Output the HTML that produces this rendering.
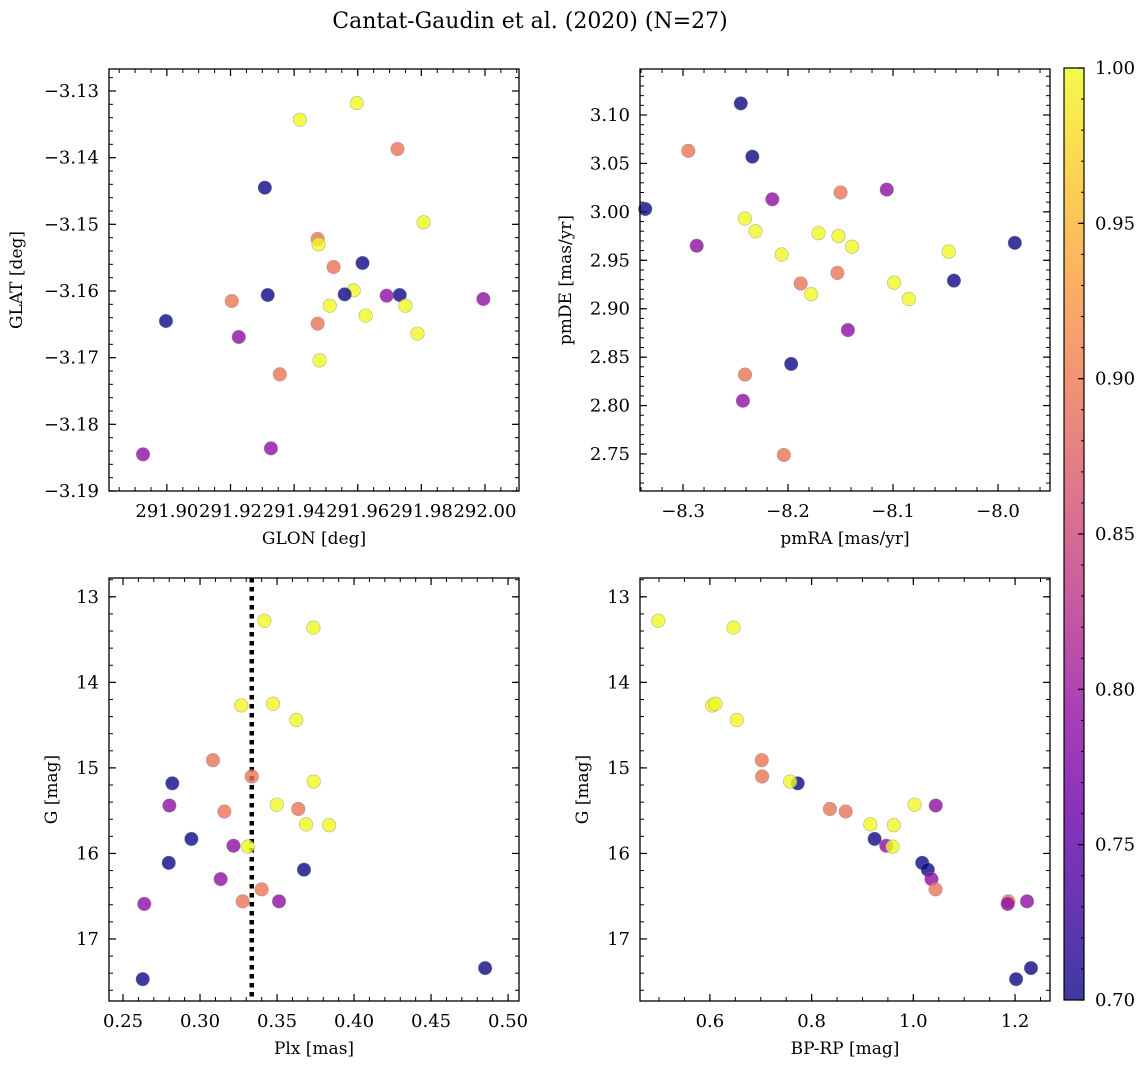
<!DOCTYPE html>
<html><head><meta charset="utf-8">
<style>
body{margin:0;background:#fff;}
svg text{font-family:"DejaVu Serif","Liberation Serif",serif;fill:#000;}
</style></head>
<body>
<svg id="fig" width="1148" height="1068" viewBox="0 0 1148 1068" xmlns="http://www.w3.org/2000/svg">
<rect width="1148" height="1068" fill="#fff"/>
<text x="530" y="28" font-size="22" text-anchor="middle">Cantat-Gaudin et al. (2020) (N=27)</text>
<defs>
<linearGradient id="plasma" x1="0" y1="1" x2="0" y2="0">
<stop offset="0" stop-color="#0d0887"/><stop offset="0.1" stop-color="#41049d"/><stop offset="0.2" stop-color="#6a00a8"/><stop offset="0.3" stop-color="#8f0da4"/><stop offset="0.4" stop-color="#b12a90"/><stop offset="0.5" stop-color="#cc4778"/><stop offset="0.6" stop-color="#e16462"/><stop offset="0.7" stop-color="#f2844b"/><stop offset="0.8" stop-color="#fca636"/><stop offset="0.9" stop-color="#fcce25"/><stop offset="1" stop-color="#f0f921"/>
</linearGradient>
</defs>
</svg>
<script>
// ---- data ----
const glonVals=[291.9597,291.9418,291.9725,291.9308,291.9807,291.9474,291.9477,291.9524,291.9615,291.9587,291.9559,291.9317,291.9732,291.9691,291.9995,291.9204,291.9512,291.9750,291.9625,291.8997,291.9474,291.9788,291.9226,291.9480,291.9355,291.9327,291.8925];
const glatVals=[-3.1318,-3.1343,-3.1387,-3.1445,-3.1497,-3.1522,-3.1530,-3.1564,-3.1558,-3.1599,-3.1605,-3.1606,-3.1606,-3.1607,-3.1612,-3.1615,-3.1622,-3.1622,-3.1637,-3.1645,-3.1649,-3.1664,-3.1669,-3.1704,-3.1725,-3.1836,-3.1845];
const probA=[1,1,0.895,0.70,1,0.895,1,0.895,0.70,1,0.70,0.70,0.70,0.79,0.79,0.895,1,1,1,0.70,0.895,1,0.79,1,0.895,0.79,0.79];

const pmraVals=[-8.245,-8.295,-8.234,-8.336,-8.106,-8.150,-8.215,-8.241,-8.231,-8.287,-8.171,-8.152,-8.139,-8.206,-8.047,-7.984,-8.153,-8.188,-8.099,-8.042,-8.178,-8.085,-8.143,-8.197,-8.241,-8.243,-8.204];
const pmdeVals=[3.112,3.063,3.057,3.003,3.023,3.020,3.013,2.993,2.980,2.965,2.978,2.975,2.964,2.956,2.959,2.968,2.937,2.926,2.927,2.929,2.915,2.910,2.878,2.843,2.832,2.805,2.749];
const probB=[0.70,0.895,0.70,0.70,0.79,0.895,0.79,1,1,0.79,1,1,1,1,1,0.70,0.895,0.895,1,0.70,1,1,0.79,0.70,0.895,0.79,0.895];

const gMag=[13.28,13.36,14.27,14.25,14.44,14.91,15.10,15.18,15.16,15.44,15.51,15.43,15.48,15.66,15.67,15.83,15.91,15.92,16.11,16.19,16.30,16.42,16.56,16.56,16.59,17.34,17.47];
const plxVals=[0.3418,0.3736,0.3268,0.3474,0.3625,0.3084,0.3336,0.2820,0.3738,0.2801,0.3158,0.3498,0.3638,0.3688,0.3838,0.2944,0.3217,0.3310,0.2797,0.3675,0.3134,0.3400,0.3277,0.3513,0.2638,0.4851,0.2628];
const probC=[1,1,1,1,1,0.895,0.895,0.70,1,0.79,0.895,1,0.895,1,1,0.70,0.79,1,0.70,0.70,0.79,0.895,0.895,0.79,0.79,0.70,0.70];
const bprpCmd=[0.4985,0.6465,0.6046,0.611,0.653,0.702,0.7027,0.7727,0.7577,1.044,0.867,1.0024,0.836,0.9154,0.9618,0.9238,0.9468,0.9592,1.0174,1.0285,1.0357,1.0436,1.1869,1.2236,1.1855,1.2313,1.202];
const plxLine=[0.3336];
const cbTicks=[0.70,0.75,0.80,0.85,0.90,0.95,1.00];

// ---- helpers ----
const NS="http://www.w3.org/2000/svg";
const svg=document.getElementById('fig');
function mk(tag,attrs,parent){const e=document.createElementNS(NS,tag);for(const k in attrs)e.setAttribute(k,attrs[k]);(parent||svg).appendChild(e);return e;}
const stops=[[0,[13,8,135]],[0.1,[65,4,157]],[0.2,[106,0,168]],[0.3,[143,13,164]],[0.4,[177,42,144]],[0.5,[204,71,120]],[0.6,[225,100,98]],[0.7,[242,132,75]],[0.8,[252,166,54]],[0.9,[252,206,37]],[1,[240,249,33]]];
function plasma(t){t=Math.max(0,Math.min(1,t));for(let i=1;i<stops.length;i++){if(t<=stops[i][0]){const a=stops[i-1],b=stops[i];const f=(t-a[0])/(b[0]-a[0]);const c=a[1].map((v,j)=>Math.round(v+(b[1][j]-v)*f));return `rgb(${c[0]},${c[1]},${c[2]})`;}}return 'rgb(240,249,33)';}
function fmt(v,d){return v.toFixed(d).replace('-','\u2212');}

function panel(o){
  const g=mk('g',{});
  
  
  const {L,T,R,B}=o;
  const sx=v=>L+(v-o.x0)/(o.x1-o.x0)*(R-L);
  const sy=v=>o.yinv? T+(v-o.y0)/(o.y1-o.y0)*(B-T) : B-(v-o.y0)/(o.y1-o.y0)*(B-T);
  const eps=1e-9;
  function ticks(a0,a1,step){const r=[];const lo=Math.min(a0,a1),hi=Math.max(a0,a1);for(let k=Math.ceil(lo/step-eps);k*step<=hi+eps;k++)r.push(k*step);return r;}
  ticks(o.x0,o.x1,o.xmin).forEach(v=>{const x=sx(v);mk('line',{x1:x,x2:x,y1:B,y2:B-4,stroke:'#000','stroke-width':1},g);mk('line',{x1:x,x2:x,y1:T,y2:T+4,stroke:'#000','stroke-width':1},g);});
  ticks(o.y0,o.y1,o.ymin).forEach(v=>{const y=sy(v);mk('line',{x1:L,x2:L+4,y1:y,y2:y,stroke:'#000','stroke-width':1},g);mk('line',{x1:R,x2:R-4,y1:y,y2:y,stroke:'#000','stroke-width':1},g);});
  ticks(o.x0,o.x1,o.xmaj).forEach(v=>{const x=sx(v);mk('line',{x1:x,x2:x,y1:B,y2:B-7,stroke:'#000','stroke-width':1.2},g);mk('line',{x1:x,x2:x,y1:T,y2:T+7,stroke:'#000','stroke-width':1.2},g);
    const t=mk('text',{x:x,y:B+26,'font-size':18,'text-anchor':'middle'},g);t.textContent=fmt(v,o.xd);
    
    });
  ticks(o.y0,o.y1,o.ymaj).forEach(v=>{const y=sy(v);mk('line',{x1:L,x2:L+7,y1:y,y2:y,stroke:'#000','stroke-width':1.2},g);mk('line',{x1:R,x2:R-7,y1:y,y2:y,stroke:'#000','stroke-width':1.2},g);
    const t=mk('text',{x:L-10,y:y+6,'font-size':18,'text-anchor':'end'},g);t.textContent=fmt(v,o.yd);
    
    });
  if(o.vline){o.vline.forEach(v=>{const l=mk('line',{x1:sx(v),x2:sx(v),y1:T,y2:B,stroke:'#000','stroke-width':4.5,'stroke-dasharray':'4.5 4.5'},g);
    
    });}
  o.xs.forEach((v,i)=>{const c=mk('circle',{cx:sx(v),cy:sy(o.ys[i]),r:6.8,fill:plasma((o.p[i]-0.7)/0.3),'fill-opacity':0.8,stroke:'#888','stroke-opacity':0.6,'stroke-width':0.6},g);
    
    });
  mk('rect',{x:L,y:T,width:R-L,height:B-T,fill:'none',stroke:'#000','stroke-width':1.3},g);
  const xl=mk('text',{x:(L+R)/2,y:B+53,'font-size':17,'text-anchor':'middle'},g);xl.textContent=o.xlab;
  
  
  const cy=(T+B)/2;
  const yl=mk('text',{x:o.ylx,y:cy,'font-size':17,'text-anchor':'middle',transform:`rotate(-90 ${o.ylx} ${cy})`},g);yl.textContent=o.ylab;
  
  
}

panel({name:'glon-glat-panel',L:109,T:69,R:519,B:491,x0:291.8818,x1:292.0107,y0:-3.19,y1:-3.1267,xmaj:0.02,xmin:0.005,ymaj:0.01,ymin:0.002,xd:2,yd:2,xs:glonVals,ys:glatVals,p:probA,xlab:'GLON [deg]',ylab:'GLAT [deg]',ylx:22});
panel({name:'proper-motion-panel',L:640,T:69,R:1050,B:491,x0:-8.341,x1:-7.9505,y0:2.7118,y1:3.1475,xmaj:0.1,xmin:0.02,ymaj:0.05,ymin:0.01,xd:1,yd:2,xs:pmraVals,ys:pmdeVals,p:probB,xlab:'pmRA [mas/yr]',ylab:'pmDE [mas/yr]',ylx:571});
panel({name:'parallax-magnitude-panel',L:109,T:578,R:519,B:1001,x0:0.2409,x1:0.5071,y0:12.78,y1:17.725,yinv:true,xmaj:0.05,xmin:0.01,ymaj:1,ymin:0.2,xd:2,yd:0,xs:plxVals,ys:gMag,p:probC,vline:plxLine,xlab:'Plx [mas]',ylab:'G [mag]',ylx:57});
panel({name:'color-magnitude-panel',L:640,T:578,R:1050,B:1001,x0:0.4626,x1:1.2687,y0:12.78,y1:17.725,yinv:true,xmaj:0.2,xmin:0.05,ymaj:1,ymin:0.2,xd:1,yd:0,xs:bprpCmd,ys:gMag,p:probC,xlab:'BP-RP [mag]',ylab:'G [mag]',ylx:588});

// colorbar
const cb=mk('g',{});


const CL=1064,CR=1084,CT=68,CB=1000;
mk('rect',{x:CL,y:CT,width:CR-CL,height:CB-CT,fill:'url(#plasma)','fill-opacity':0.8},cb);
mk('rect',{x:CL,y:CT,width:CR-CL,height:CB-CT,fill:'none',stroke:'#000','stroke-width':1.2},cb);
const cy=v=>CB-(v-0.7)/0.3*(CB-CT);
for(let k=70;k<=100;k++){const y=cy(k/100);mk('line',{x1:CR,x2:CR-3,y1:y,y2:y,stroke:'#000','stroke-width':1},cb);}
cbTicks.forEach(v=>{const y=cy(v);mk('line',{x1:CR,x2:CR-6,y1:y,y2:y,stroke:'#000','stroke-width':1.2},cb);
  const t=mk('text',{x:1095,y:y+6,'font-size':18},cb);t.textContent=v.toFixed(2);
  
  });
</script>
</body></html>
